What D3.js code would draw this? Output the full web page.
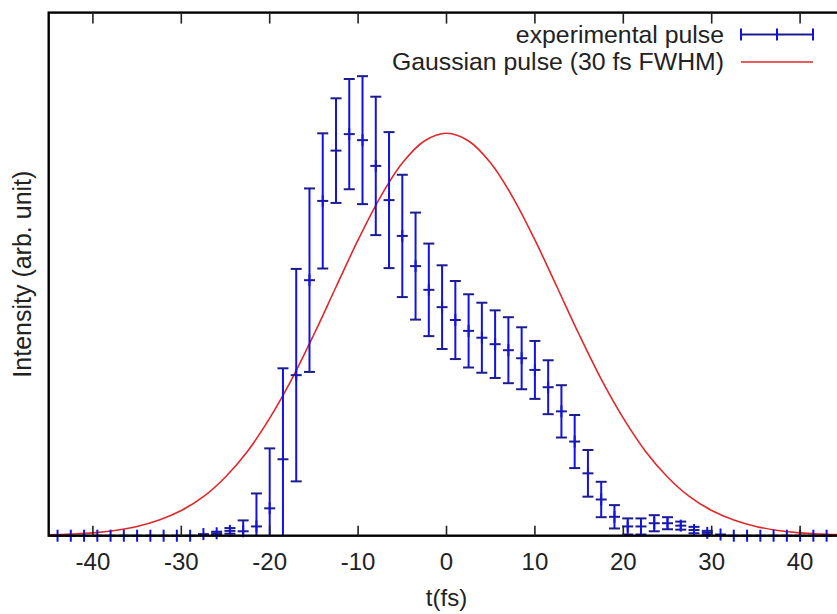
<!DOCTYPE html>
<html>
<head>
<meta charset="utf-8">
<script src="https://cdn.jsdelivr.net/npm/d3@7"></script>
<style>
  body { margin: 0; background: #fff; }
  text { font-family: "Liberation Sans", Arial, sans-serif; fill: #222; }
</style>
</head>
<body>
<svg id="pulseSvg" width="837" height="614"></svg>
<script>
// time grid of the measured pulse (fs)
var expTime = [-44, -42.5, -41, -39.5, -38, -36.5, -35, -33.5, -32, -30.5,
  -29, -27.5, -26, -24.5, -23, -21.5, -20, -18.5, -17, -15.5,
  -14, -12.5, -11, -9.5, -8, -6.5, -5, -3.5, -2, -0.5,
  1, 2.5, 4, 5.5, 7, 8.5, 10, 11.5, 13, 14.5,
  16, 17.5, 19, 20.5, 22, 23.5, 25, 26.5, 28, 29.5,
  31, 32.5, 34, 35.5, 37, 38.5, 40, 41.5, 43];
var expIntensity = [0, 0, 0, 0, 0, 0, 0, 0, 0, 0,
  0, 0.004, 0.006, 0.012, 0.011, 0.023, 0.068, 0.190, 0.399, 0.635,
  0.832, 0.957, 0.998, 0.983, 0.919, 0.834, 0.745, 0.670, 0.611, 0.568,
  0.536, 0.509, 0.492, 0.476, 0.461, 0.441, 0.412, 0.369, 0.309, 0.234,
  0.155, 0.090, 0.047, 0.023, 0.023, 0.031, 0.031, 0.025, 0.014, 0.007,
  0.003, 0, 0, 0, 0, 0, 0, 0, 0];
var expError = [0, 0, 0, 0, 0, 0, 0, 0, 0, 0,
  0, 0, 0.004, 0.007, 0.027, 0.082, 0.149, 0.226, 0.264, 0.228,
  0.168, 0.130, 0.137, 0.159, 0.172, 0.169, 0.152, 0.133, 0.115, 0.104,
  0.097, 0.091, 0.087, 0.084, 0.082, 0.077, 0.072, 0.067, 0.065, 0.066,
  0.058, 0.044, 0.029, 0.020, 0.020, 0.020, 0.015, 0.010, 0.008, 0.005,
  0, 0, 0, 0, 0, 0, 0, 0, 0];

var gaussTime = [-45, -42.5, -40, -37.5, -35, -32.5, -30, -27.5, -25, -22.5,
  -20, -17.5, -15, -12.5, -10, -7.5, -5, -2.5, 0, 2.5,
  5, 7.5, 10, 12.5, 15, 17.5, 20, 22.5, 25, 27.5,
  30, 32.5, 35, 37.5, 40, 42.5, 45];
var gaussIntensity = [0.002, 0.004, 0.007, 0.013, 0.023, 0.039, 0.0625, 0.097, 0.146, 0.210,
  0.292, 0.389, 0.5, 0.618, 0.735, 0.841, 0.926, 0.981, 1, 0.981,
  0.926, 0.841, 0.735, 0.618, 0.5, 0.389, 0.292, 0.210, 0.146, 0.097,
  0.0625, 0.039, 0.023, 0.013, 0.007, 0.004, 0.002];

var xTicks = [-40, -30, -20, -10, 0, 10, 20, 30, 40];
var legendLabels = ["experimental pulse", "Gaussian pulse (30 fs FWHM)"];

var svg, xScale, yScale;
var blue = "#1212e8", navy = "#1c1c90", red = "#e0282c";

document.addEventListener("DOMContentLoaded", function () {
  svg = d3.select("#pulseSvg");
  xScale = d3.scaleLinear().domain([-45, 45]).range([48.7, 844.3]);
  yScale = d3.scaleLinear().domain([0, 1.3]).range([535.7, 12.6]);
  drawPulse();
  drawFrame();
  drawLegend();
});

function drawPulse() {
  svg.append("defs").append("clipPath").attr("id", "plotClip")
    .append("rect")
    .attr("x", xScale(-45)).attr("y", yScale(1.3))
    .attr("width", xScale(45) - xScale(-45))
    .attr("height", yScale(0) - yScale(1.3));

  var gauss = gaussTime.map((t, i) => [t, gaussIntensity[i]]);
  var line = d3.line()
    .x(d => xScale(d[0]))
    .y(d => yScale(d[1]))
    .curve(d3.curveCatmullRom);

  svg.append("path")
    .datum(gauss)
    .attr("clip-path", "url(#plotClip)")
    .attr("d", line)
    .attr("fill", "none")
    .attr("stroke", red)
    .attr("stroke-width", 1.6);

  var pts = expTime.map((t, i) => ({ t: t, v: expIntensity[i], e: expError[i] }));
  var cap = 5.5;

  var bars = svg.append("g").attr("clip-path", "url(#plotClip)");
  bars.selectAll("line.bar")
    .data(pts).enter().append("line")
    .attr("class", "bar")
    .attr("x1", d => xScale(d.t)).attr("x2", d => xScale(d.t))
    .attr("y1", d => yScale(d.v + d.e)).attr("y2", d => yScale(d.v - d.e))
    .attr("stroke", blue).attr("stroke-width", 2);

  // caps, only when they land inside the frame
  var caps = [];
  pts.forEach(d => {
    if (d.e <= 0) return;
    caps.push([d.t, d.v + d.e]);
    if (d.v - d.e >= 0) caps.push([d.t, d.v - d.e]);
  });
  svg.append("g").selectAll("line")
    .data(caps).enter().append("line")
    .attr("x1", d => xScale(d[0]) - cap).attr("x2", d => xScale(d[0]) + cap)
    .attr("y1", d => yScale(d[1])).attr("y2", d => yScale(d[1]))
    .attr("stroke", navy).attr("stroke-width", 2);

  // point symbol (+)
  var marks = svg.append("g");
  marks.selectAll("line.h")
    .data(pts).enter().append("line")
    .attr("x1", d => xScale(d.t) - cap).attr("x2", d => xScale(d.t) + cap)
    .attr("y1", d => yScale(d.v)).attr("y2", d => yScale(d.v))
    .attr("stroke", navy).attr("stroke-width", 2);
  marks.selectAll("line.v")
    .data(pts).enter().append("line")
    .attr("x1", d => xScale(d.t)).attr("x2", d => xScale(d.t))
    .attr("y1", d => yScale(d.v) - 6).attr("y2", d => yScale(d.v) + 6)
    .attr("stroke", blue).attr("stroke-width", 2);
}

function drawFrame() {
  var x0 = xScale(-45), x1 = xScale(45), yTop = yScale(1.3), yBot = yScale(0);

  svg.append("rect")
    .attr("x", x0).attr("y", yTop)
    .attr("width", x1 - x0).attr("height", yBot - yTop)
    .attr("fill", "none").attr("stroke", "#000").attr("stroke-width", 2.4);

  var ticks = svg.append("g");
  xTicks.forEach(t => {
    ticks.append("line")
      .attr("x1", xScale(t)).attr("x2", xScale(t))
      .attr("y1", yBot).attr("y2", yBot - 10)
      .attr("stroke", "#222").attr("stroke-width", 1.6);
    ticks.append("line")
      .attr("x1", xScale(t)).attr("x2", xScale(t))
      .attr("y1", yTop).attr("y2", yTop + 11)
      .attr("stroke", "#222").attr("stroke-width", 1.6);
    ticks.append("text")
      .attr("x", xScale(t)).attr("y", 570)
      .attr("text-anchor", "middle")
      .attr("font-size", 24)
      .text(t);
  });

  svg.append("text")
    .attr("x", xScale(0)).attr("y", 606)
    .attr("text-anchor", "middle")
    .attr("font-size", 24)
    .text("t(fs)");

  svg.append("text")
    .attr("transform", "translate(31," + (yTop + yBot) / 2 + ") rotate(-90)")
    .attr("text-anchor", "middle")
    .attr("font-size", 25)
    .text("Intensity (arb. unit)");
}

function drawLegend() {
  var lg = svg.append("g");
  var textRight = 724, lx0 = 741, lx1 = 813;
  var rows = [34.5, 62];

  lg.selectAll("text")
    .data(legendLabels).enter().append("text")
    .attr("x", textRight)
    .attr("y", (d, i) => rows[i] + 8)
    .attr("text-anchor", "end")
    .attr("font-size", 24.8)
    .text(d => d);

  lg.append("line")
    .attr("x1", lx0).attr("x2", lx1).attr("y1", rows[0]).attr("y2", rows[0])
    .attr("stroke", navy).attr("stroke-width", 2);
  [lx0, (lx0 + lx1) / 2, lx1].forEach(x => {
    lg.append("line")
      .attr("x1", x).attr("x2", x).attr("y1", rows[0] - 6).attr("y2", rows[0] + 6)
      .attr("stroke", blue).attr("stroke-width", 2);
  });

  lg.append("line")
    .attr("x1", lx0).attr("x2", lx1).attr("y1", rows[1]).attr("y2", rows[1])
    .attr("stroke", red).attr("stroke-width", 1.6);
}
</script>
</body>
</html>
